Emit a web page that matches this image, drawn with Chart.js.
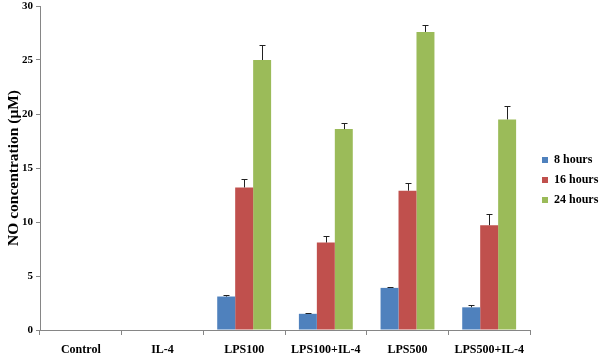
<!DOCTYPE html>
<html>
<head>
<meta charset="utf-8">
<script src="https://cdn.jsdelivr.net/npm/chart.js@4/dist/chart.umd.min.js"></script>
<style>
  html, body { margin: 0; padding: 0; background: #fff; }
  #wrap { width: 600px; height: 354px; }
</style>
</head>
<body>
<div id="wrap"><canvas id="noChart"></canvas></div>
<script>
// data
const groups = ['Control', 'IL-4', 'LPS100', 'LPS100+IL-4', 'LPS500', 'LPS500+IL-4'];
const hours8 = [0, 0, 3.1, 1.5, 3.9, 2.1];
const hours16 = [0, 0, 13.2, 8.1, 12.9, 9.7];
const hours24 = [0, 0, 25.0, 18.6, 27.6, 19.5];
const err8 = [0, 0, 0.1, 0.1, 0.1, 0.25];
const err16 = [0, 0, 0.8, 0.6, 0.7, 1.0];
const err24 = [0, 0, 1.4, 0.6, 0.65, 1.25];
const yTicks = [0, 5, 10, 15, 20, 25, 30];

const font = { family: '"Liberation Serif", "Times New Roman", serif', weight: 'bold' };

// upward error bars with a cap
const errorBars = {
    id: 'errorBars',
    afterDatasetsDraw(chart) {
        const ctx = chart.ctx;
        const y = chart.scales.y;
        ctx.save();
        ctx.strokeStyle = '#222';
        ctx.lineWidth = 1;
        chart.data.datasets.forEach((ds, i) => {
            const meta = chart.getDatasetMeta(i);
            meta.data.forEach((bar, j) => {
                const e = ds.errors[j];
                if (!e) return;
                const top = Math.round(y.getPixelForValue(ds.data[j] + e)) + 0.5;
                const x = Math.round(bar.x) + 0.5;
                ctx.beginPath();
                ctx.moveTo(x, bar.y);
                ctx.lineTo(x, top);
                ctx.moveTo(x - 3, top);
                ctx.lineTo(x + 3, top);
                ctx.stroke();
            });
        });
        ctx.restore();
    }
};

// keep the legend column narrow and nudge it right, like the original
const legendWidth = {
    id: 'legendWidth',
    beforeInit(chart) {
        const fit = chart.legend.fit;
        chart.legend.fit = function() {
            fit.bind(chart.legend)();
            this.width = 70;
        };
    },
    afterLayout(chart) {
        chart.legend.left += 4;
        chart.legend.right += 4;
    }
};

document.addEventListener('DOMContentLoaded', function() {
    const ctx = document.getElementById('noChart').getContext('2d');
    new Chart(ctx, {
        type: 'bar',
        data: {
            labels: groups,
            datasets: [{
                label: '8 hours',
                data: hours8,
                errors: err8,
                backgroundColor: '#4F81BD'
            }, {
                label: '16 hours',
                data: hours16,
                errors: err16,
                backgroundColor: '#C0504D'
            }, {
                label: '24 hours',
                data: hours24,
                errors: err24,
                backgroundColor: '#9BBB59'
            }]
        },
        options: {
            responsive: true,
            maintainAspectRatio: false,
            animation: false,
            datasets: {
                bar: { categoryPercentage: 0.66, barPercentage: 1.0 }
            },
            layout: { padding: { top: 6, right: 0, left: 0, bottom: 0 } },
            scales: {
                x: {
                    grid: { drawOnChartArea: false, tickLength: 5, color: '#868686' },
                    border: { color: '#868686' },
                    ticks: { color: '#000', font: { ...font, size: 12 }, padding: 8, maxRotation: 0, autoSkip: false },
                    afterFit: s => { s.height = 24; }
                },
                y: {
                    min: 0,
                    max: 30,
                    afterBuildTicks: s => { s.ticks = yTicks.map(v => ({ value: v })); },
                    grid: { drawOnChartArea: false, tickLength: 4, color: '#868686' },
                    border: { color: '#868686' },
                    ticks: { color: '#000', font: { ...font, size: 11 }, padding: 3 },
                    title: {
                        display: true,
                        text: 'NO concentration (μM)',
                        color: '#000',
                        font: { ...font, size: 15.5 },
                        padding: { top: 5, bottom: 0 }
                    },
                    afterFit: s => { s.width = 40; s.paddingTop = 0; }
                }
            },
            plugins: {
                legend: {
                    position: 'right',
                    labels: {
                        color: '#000',
                        font: { ...font, size: 12 },
                        boxWidth: 6,
                        boxHeight: 6,
                        padding: 8
                    }
                },
                tooltip: { enabled: false }
            }
        },
        plugins: [errorBars, legendWidth]
    });
});
</script>
</body>
</html>
